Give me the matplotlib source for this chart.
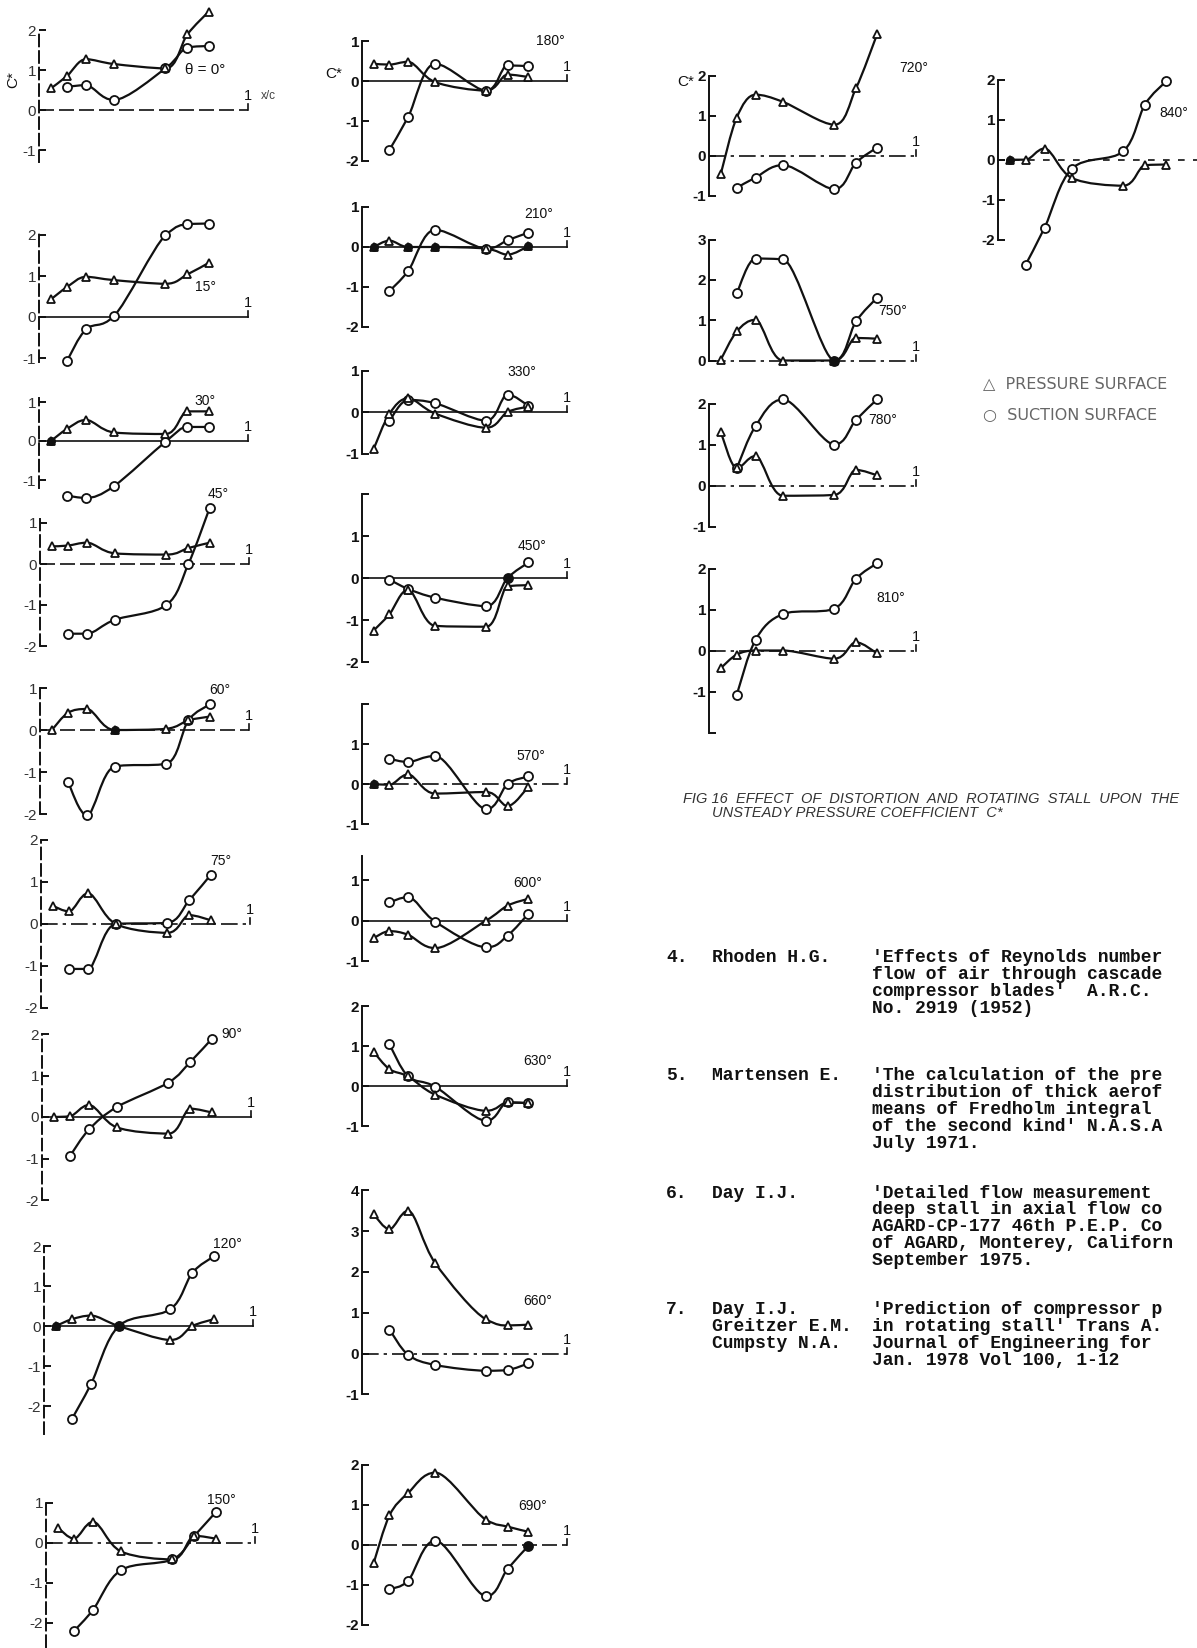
import numpy as np
import matplotlib
matplotlib.use("Agg")
import matplotlib.pyplot as plt
from matplotlib.path import Path
from matplotlib.patches import PathPatch

# ===========================
# CONFIGURATION
# ===========================
W, H = 1197, 1648
INK = "#111111"

# chordwise pressure tappings, x/c
XS = [0.057, 0.134, 0.225, 0.358, 0.605, 0.71, 0.812]

# ===========================
# C* DATA (pressure surface / suction surface), one entry per tapping
# ===========================
pr_000 = [0.54, 0.85, 1.27, 1.15, 1.04, 1.89, 2.46]
su_000 = [None, 0.58, 0.62, 0.25, 1.04, 1.56, 1.60]
pr_015 = [0.43, 0.73, 0.98, 0.90, 0.81, 1.04, 1.32]
su_015 = [None, -1.07, -0.30, 0.02, 1.99, 2.26, 2.28]
pr_030 = [0.0, 0.31, 0.54, 0.22, 0.18, 0.76, 0.76]
su_030 = [None, -1.40, -1.46, -1.16, -0.02, 0.36, 0.36]
pr_045 = [0.43, 0.45, 0.52, 0.26, 0.23, 0.39, 0.52]
su_045 = [None, -1.70, -1.70, -1.36, -1.00, 0.0, 1.37]
pr_060 = [0.0, 0.41, 0.50, 0.0, 0.03, 0.23, 0.32]
su_060 = [None, -1.24, -2.03, -0.87, -0.80, 0.23, 0.61]
pr_075 = [0.43, 0.30, 0.73, 0.0, -0.21, 0.21, 0.09]
su_075 = [None, -1.07, -1.07, 0.0, 0.03, 0.57, 1.17]
pr_090 = [0.0, 0.02, 0.29, -0.25, -0.40, 0.20, 0.11]
su_090 = [None, -0.94, -0.30, 0.24, 0.83, 1.33, 1.88]
pr_120 = [0.0, 0.17, 0.26, 0.0, -0.35, 0.0, 0.17]
su_120 = [None, -2.32, -1.45, 0.0, 0.42, 1.33, 1.74]
pr_150 = [0.38, 0.11, 0.53, -0.21, -0.41, 0.18, 0.11]
su_150 = [None, -2.20, -1.67, -0.68, -0.41, 0.18, 0.77]

pr_180 = [0.43, 0.41, 0.48, -0.03, -0.24, 0.16, 0.10]
su_180 = [None, -1.72, -0.90, 0.43, -0.24, 0.39, 0.37]
pr_210 = [0.0, 0.16, 0.0, 0.0, -0.04, -0.19, 0.02]
su_210 = [None, -1.10, -0.60, 0.43, -0.04, 0.17, 0.36]
pr_330 = [-0.89, -0.04, 0.33, -0.04, -0.38, 0.0, 0.13]
su_330 = [None, -0.21, 0.29, 0.21, -0.21, 0.42, 0.15]
pr_450 = [-1.25, -0.86, -0.28, -1.14, -1.16, -0.20, -0.17]
su_450 = [None, -0.04, -0.26, -0.47, -0.67, 0.0, 0.37]
pr_570 = [0.0, -0.02, 0.24, -0.24, -0.20, -0.55, -0.07]
su_570 = [None, 0.63, 0.55, 0.70, -0.63, 0.0, 0.19]
pr_600 = [-0.43, -0.26, -0.35, -0.68, 0.0, 0.37, 0.54]
su_600 = [None, 0.45, 0.58, -0.03, -0.66, -0.37, 0.17]
pr_630 = [0.85, 0.42, 0.24, -0.22, -0.62, -0.41, -0.43]
su_630 = [None, 1.04, 0.24, -0.02, -0.87, -0.41, -0.43]
pr_660 = [3.41, 3.05, 3.50, 2.21, 0.84, 0.69, 0.71]
su_660 = [None, 0.59, -0.03, -0.28, -0.42, -0.40, -0.24]
pr_690 = [-0.45, 0.74, 1.30, 1.81, 0.63, 0.46, 0.33]
su_690 = [None, -1.10, -0.89, 0.11, -1.28, -0.60, -0.02]

pr_720 = [-0.46, 0.95, 1.52, 1.34, 0.77, 1.68, 3.03]
su_720 = [None, -0.81, -0.55, -0.24, -0.84, -0.18, 0.20]
pr_750 = [0.02, 0.72, 1.01, 0.0, 0.0, 0.56, 0.54]
su_750 = [None, 1.67, 2.53, 2.51, 0.0, 0.97, 1.56]
pr_780 = [1.30, 0.42, 0.72, -0.25, -0.23, 0.38, 0.25]
su_780 = [None, 0.42, 1.45, 2.10, 1.00, 1.60, 2.10]
pr_810 = [-0.43, -0.10, 0.0, 0.0, -0.20, 0.20, -0.07]
su_810 = [None, -1.08, 0.26, 0.89, 1.02, 1.75, 2.13]
pr_840 = [0.0, 0.0, 0.28, -0.46, -0.65, -0.14, -0.12]
su_840 = [None, -2.62, -1.70, -0.22, 0.21, 1.38, 1.96]

# tappings where both surfaces coincide and the symbol is inked solid
solid_pr = {"030": [0], "060": [3], "120": [0, 3], "210": [0, 2, 3, 6],
            "570": [0], "750": [4], "840": [0]}
solid_su = {"120": [3], "450": [5], "690": [6], "750": [4]}

SERIES = {
    "000": (pr_000, su_000), "015": (pr_015, su_015), "030": (pr_030, su_030),
    "045": (pr_045, su_045), "060": (pr_060, su_060), "075": (pr_075, su_075),
    "090": (pr_090, su_090), "120": (pr_120, su_120), "150": (pr_150, su_150),
    "180": (pr_180, su_180), "210": (pr_210, su_210), "330": (pr_330, su_330),
    "450": (pr_450, su_450), "570": (pr_570, su_570), "600": (pr_600, su_600),
    "630": (pr_630, su_630), "660": (pr_660, su_660), "690": (pr_690, su_690),
    "720": (pr_720, su_720), "750": (pr_750, su_750), "780": (pr_780, su_780),
    "810": (pr_810, su_810), "840": (pr_840, su_840),
}

# ===========================
# PANEL LAYOUT (pixels): y-axis x, zero-line y, px per unit, span of x/c = 1
# ===========================
DASH = (0, (9, 3))
DDOT = (0, (10, 3, 2, 3))
SOLID = "-"

PANELS = [
    # key, x0, yzero, unit, span, ylim, ticks, ticklabels, zero style, label, label pos
    ("000", 39, 110, 40, 209, (-1.3, 2.0), [2, 1, 0, -1], None, DASH, "\u03b8 = 0\u00b0", (0.70, 1.0)),
    ("015", 39, 317, 41, 209, (-1.1, 2.05), [2, 1, 0, -1], None, SOLID, "15\u00b0", (0.745, 0.73)),
    ("030", 39, 441, 39, 209, (-1.2, 1.1), [1, 0, -1], None, SOLID, "30\u00b0", (0.745, 1.03)),
    ("045", 40, 564, 41, 209, (-2.0, 1.1), [1, 0, -1, -2], None, DASH, "45\u00b0", (0.80, 1.7)),
    ("060", 40, 730, 42, 209, (-2.0, 1.0), [1, 0, -1, -2], None, DASH, "60\u00b0", (0.81, 0.96)),
    ("075", 41, 924, 42, 209, (-2.0, 2.0), [2, 1, 0, -1, -2], None, DDOT, "75\u00b0", (0.81, 1.5)),
    ("090", 42, 1117, 41.5, 209, (-2.0, 2.0), [2, 1, 0, -1, -2], None, SOLID, "90\u00b0", (0.86, 2.0)),
    ("120", 44, 1326, 40, 209, (-2.7, 2.0), [2, 1, 0, -1, -2], None, SOLID, "120\u00b0", (0.81, 2.05)),
    ("150", 46, 1543, 40, 209, (-2.6, 1.0), [1, 0, -1, -2], None, DDOT, "150\u00b0", (0.77, 1.08)),

    ("180", 362, 81, 40, 205, (-2, 1), [1, 0, -1, -2], None, SOLID, "180\u00b0", (0.85, 1.0)),
    ("210", 362, 247, 40, 205, (-2, 1), [1, 0, -1, -2], None, SOLID, "210\u00b0", (0.79, 0.82)),
    ("330", 362, 412, 41.5, 205, (-1, 1), [1, 0, -1], None, SOLID, "330\u00b0", (0.71, 0.96)),
    ("450", 362, 578, 42, 205, (-2, 2), [2, 1, 0, -1, -2], ["", "1", "0", "-1", "-2"], SOLID, "450\u00b0", (0.76, 0.75)),
    ("570", 362, 784, 40, 205, (-1, 2), [2, 1, 0, -1], ["", "1", "0", "-1"], DDOT, "570\u00b0", (0.755, 0.71)),
    ("600", 362, 920.6, 40.5, 205, (-1, 1.6), [1, 0, -1], None, SOLID, "600\u00b0", (0.74, 0.93)),
    ("630", 362, 1086, 40, 205, (-1, 2), [2, 1, 0, -1], None, SOLID, "630\u00b0", (0.785, 0.62)),
    ("660", 362, 1353.6, 40.8, 205, (-1, 4), [4, 3, 2, 1, 0, -1], None, DDOT, "660\u00b0", (0.785, 1.28)),
    ("690", 362, 1545, 40, 205, (-2, 2), [2, 1, 0, -1, -2], None, DASH, "690\u00b0", (0.76, 0.98)),

    ("720", 709, 155.5, 40, 207, (-1, 2), [2, 1, 0, -1], None, DDOT, "720\u00b0", (0.92, 2.2)),
    ("750", 709, 360.5, 40.3, 207, (0, 3), [3, 2, 1, 0], None, DDOT, "750\u00b0", (0.82, 1.22)),
    ("780", 709, 485.5, 41, 207, (-1, 2), [2, 1, 0, -1], None, DDOT, "780\u00b0", (0.77, 1.6)),
    ("810", 709, 650.5, 41, 207, (-2, 2), [2, 1, 0, -1, -2], ["2", "1", "0", "-1", ""], DDOT, "810\u00b0", (0.81, 1.28)),

    ("840", 998, 159.7, 40, 207, (-2, 2), [2, 1, 0, -1, -2], None, (0, (4, 5)), "840\u00b0", (0.78, 1.16)),
]

FIRST_COLUMN = {"000", "015", "030", "045", "060", "075", "090", "120", "150"}

CAPTION = ["FIG 16  EFFECT  OF  DISTORTION  AND  ROTATING  STALL  UPON  THE",
           "UNSTEADY PRESSURE COEFFICIENT  C*"]

REFS = [
    ("4.", ["Rhoden H.G."],
     ["'Effects of Reynolds number", "flow of air through cascade",
      "compressor blades'  A.R.C.", "No. 2919 (1952)"], 958),
    ("5.", ["Martensen E."],
     ["'The calculation of the pre", "distribution of thick aerof",
      "means of Fredholm integral", "of the second kind' N.A.S.A",
      "July 1971."], 1076),
    ("6.", ["Day I.J."],
     ["'Detailed flow measurement", "deep stall in axial flow co",
      "AGARD-CP-177 46th P.E.P. Co", "of AGARD, Monterey, Californ",
      "September 1975."], 1193),
    ("7.", ["Day I.J.", "Greitzer E.M.", "Cumpsty N.A."],
     ["'Prediction of compressor p", "in rotating stall' Trans A.",
      "Journal of Engineering for", "Jan. 1978 Vol 100, 1-12"], 1310),
]
# ===========================


def smooth_path(xs, ys):
    """Faired curve through the measured points; flat at local peaks so it
    does not overshoot between tappings."""
    pts = np.column_stack([xs, ys]).astype(float)
    n = len(pts)
    tang = np.zeros_like(pts)
    for i in range(n):
        a = pts[max(i - 1, 0)]
        b = pts[min(i + 1, n - 1)]
        tang[i] = (b - a) / 2.0
        if 0 < i < n - 1:
            d0 = pts[i, 1] - pts[i - 1, 1]
            d1 = pts[i + 1, 1] - pts[i, 1]
            if d0 * d1 <= 0:
                tang[i, 1] = 0.0
            else:
                lim = 3.0 * min(abs(d0), abs(d1))
                tang[i, 1] = np.clip(tang[i, 1], -lim, lim)
    verts = [pts[0]]
    codes = [Path.MOVETO]
    for i in range(n - 1):
        verts += [pts[i] + tang[i] / 3.0, pts[i + 1] - tang[i + 1] / 3.0, pts[i + 1]]
        codes += [Path.CURVE4] * 3
    return Path(verts, codes)


def draw_curve(ax, values, marker, ms, solid):
    pairs = [(x, v) for x, v in zip(XS, values) if v is not None]
    xs = [p[0] for p in pairs]
    ys = [p[1] for p in pairs]
    ax.add_patch(PathPatch(smooth_path(xs, ys), fill=False, ec=INK, lw=1.6,
                           capstyle="round", joinstyle="round", clip_on=False, zorder=2))
    ax.plot(xs, ys, ls="none", marker=marker, ms=ms, mfc="white", mec=INK,
            mew=1.3, clip_on=False, zorder=3)
    idx = [i - (len(values) - len(xs)) for i in solid]
    if idx:
        ax.plot([xs[i] for i in idx], [ys[i] for i in idx], ls="none", marker="o",
                ms=5.5, mfc=INK, mec=INK, clip_on=False, zorder=4)


def make_panel(fig, spec):
    key, x0, yz, unit, span, ylim, ticks, tlabels, zstyle, label, lpos = spec
    ylo, yhi = ylim
    rect = [x0 / W, 1 - (yz - ylo * unit) / H, span / W, (yhi - ylo) * unit / H]
    ax = fig.add_axes(rect)
    ax.set_xlim(0, 1)
    ax.set_ylim(ylo, yhi)
    ax.patch.set_visible(False)
    for side in ("top", "right", "bottom"):
        ax.spines[side].set_visible(False)
    ax.spines["left"].set_linewidth(1.4)
    ax.spines["left"].set_color(INK)
    first = key in FIRST_COLUMN
    if first:
        ax.spines["left"].set_linestyle((0, (6, 2.5)))
    ax.set_xticks([])
    ax.set_yticks(ticks)
    ax.set_yticklabels(tlabels if tlabels else [str(t) for t in ticks])
    ax.tick_params(axis="y", direction="in", length=5, width=1.4, pad=2,
                   labelsize=11, colors=INK)
    for t in ax.get_yticklabels():
        t.set_fontweight("normal" if first else "bold")
        if first:
            t.set_color("#333333")

    # zero line, with the x/c = 1 end mark
    ax.axhline(0, color=INK, lw=1.2, ls=zstyle, zorder=1, clip_on=False)
    if key != "840":
        h = 6.0 / unit
        ax.plot([1, 1], [0, h], color=INK, lw=1.2, clip_on=False)
        ax.text(1.0, h + 0.02, "1", ha="center", va="bottom", fontsize=10.5, color=INK)
    if key == "000":
        ax.text(1.06, 0.35, "x/c", ha="left", va="center", fontsize=8.5, color="#444444")
        ax.text(-0.125, 0.75, "C*", rotation=90, ha="center", va="center",
                fontsize=11, color=INK)
    if key == "180":
        ax.text(-0.137, 0.17, "C*", ha="center", va="center", fontsize=11, color=INK)
    if key == "720":
        ax.text(-0.115, 1.85, "C*", ha="center", va="center", fontsize=11, color=INK)

    pr, su = SERIES[key]
    draw_curve(ax, su, "o", 6.5, solid_su.get(key, []))
    draw_curve(ax, pr, "^", 6.0, solid_pr.get(key, []))
    ax.text(lpos[0], lpos[1], label, ha="left", va="center",
            fontsize=11 if key == "000" else 10, color=INK)
    return ax


def main():
    plt.rcParams["font.family"] = ["Liberation Sans", "DejaVu Sans"]
    plt.rcParams["axes.unicode_minus"] = False

    fig = plt.figure(figsize=(W / 100, H / 100), dpi=100)
    fig.patch.set_facecolor("white")

    for spec in PANELS:
        make_panel(fig, spec)

    # symbol key
    fig.text(983 / W, 1 - 384 / H, "\u25b3  PRESSURE SURFACE", fontsize=11.5,
             family=["DejaVu Sans"], color="#666666", va="center")
    fig.text(983 / W, 1 - 415 / H, "\u25cb  SUCTION SURFACE", fontsize=11.5,
             family=["DejaVu Sans"], color="#666666", va="center")

    # figure caption
    fig.text(683 / W, 1 - 799 / H, CAPTION[0], fontsize=10.5, style="italic",
             color="#333333", va="center")
    fig.text(712 / W, 1 - 813 / H, CAPTION[1], fontsize=10.5, style="italic",
             color="#333333", va="center")

    # reference list
    mono = dict(family=["Liberation Mono", "DejaVu Sans Mono"], fontsize=13,
                weight="bold", color=INK, va="center")
    step = 16.8
    for num, authors, lines, y0 in REFS:
        fig.text(666 / W, 1 - y0 / H, num, **mono)
        for k, a in enumerate(authors):
            fig.text(712 / W, 1 - (y0 + k * step) / H, a, **mono)
        for k, line in enumerate(lines):
            fig.text(872 / W, 1 - (y0 + k * step) / H, line, **mono)

    fig.savefig("out.png", dpi=100, facecolor="white")


if __name__ == "__main__":
    main()
